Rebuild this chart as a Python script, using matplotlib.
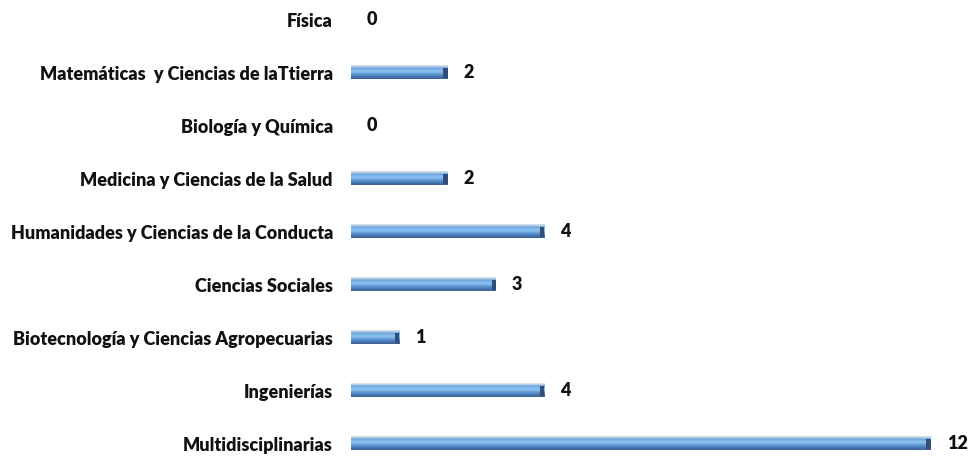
import matplotlib
matplotlib.use("Agg")
import matplotlib.pyplot as plt
import numpy as np
from matplotlib.colors import LinearSegmentedColormap

categories = ["Física", "Matemáticas  y Ciencias de laTtierra", "Biología y Química",
              "Medicina y Ciencias de la Salud", "Humanidades y Ciencias de la Conducta",
              "Ciencias Sociales", "Biotecnología y Ciencias Agropecuarias",
              "Ingenierías", "Multidisciplinarias"]
values = [0, 2, 0, 2, 4, 3, 1, 4, 12]

plt.rcParams['font.family'] = ['Lato', 'DejaVu Sans']

W, H = 968, 457
fig = plt.figure(figsize=(W/100, H/100), dpi=100)
ax = fig.add_axes([351/W, 0, (955-351)/W, 450.5/H])
n = len(categories)
ypos = np.arange(n)[::-1]
bh = 0.25

cmap = LinearSegmentedColormap.from_list("g", [
    (0.0, "#3c5f8e"), (0.25, "#4f86c6"), (0.55, "#8cc4f2"), (0.8, "#6ea6de"), (0.9, "#b8cfe6"), (1.0, "#e2e6ea")])
grad = np.linspace(0, 1, 50).reshape(-1, 1)

for y, v in zip(ypos, values):
    if v <= 0:
        continue
    ax.barh(y, v, height=bh, color="#5b93d3", edgecolor="none", zorder=1)
    ax.imshow(grad, cmap=cmap, aspect="auto", origin="lower",
              extent=(0, v, y - bh/2, y + bh/2), zorder=2, interpolation="bilinear")
    cap = 0.09
    ax.barh(y - bh*0.05, cap, left=v - cap, height=bh*0.75, color="#2f4e78", edgecolor="none", zorder=3)

for y, v in zip(ypos, values):
    ax.text(v + 0.33, y, str(v), va="center", ha="left", fontsize=13,
            fontweight="heavy", color="#111111")

ax.set_xlim(0, 12.5)
ax.set_ylim(-0.25, n - 1 + 0.25)
ax.set_yticks(ypos)
ax.set_yticklabels(categories, fontsize=13, fontweight="heavy", color="#111111")
ax.tick_params(axis="y", length=0, pad=13)
ax.set_xticks([])
for s in ax.spines.values():
    s.set_visible(False)

fig.savefig("out.png", dpi=100)
